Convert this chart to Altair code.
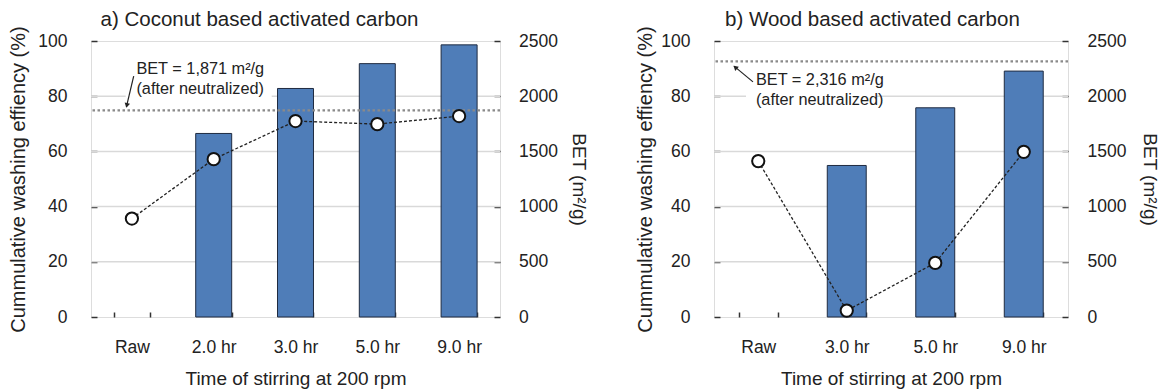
import altair as alt
import pandas as pd

FONT = "Liberation Sans"
INK = "#222222"

# ---------------- data ----------------
cats_a = ["Raw", "2.0 hr", "3.0 hr", "5.0 hr", "9.0 hr"]
eff_a = [None, 66.5, 82.8, 91.8, 98.6]
bet_a = [892, 1430, 1775, 1747, 1820]
bet_neutral_a = 1871

cats_b = ["Raw", "3.0 hr", "5.0 hr", "9.0 hr"]
eff_b = [None, 54.9, 75.8, 89.1]
bet_b = [1412, 58, 490, 1496]
bet_neutral_b = 2316

pct_ticks = [0, 20, 40, 60, 80, 100]
grid_vals = [20, 40, 60, 80]
bet_ticks = [0, 500, 1000, 1500, 2000, 2500]

title_a = "a) Coconut based activated carbon"
title_b = "b) Wood based activated carbon"
x_title = "Time of stirring at 200 rpm"
y_title = "Cummulative washing effiency (%)"
y2_title = "BET (m²/g)"
note_tail = "(after neutralized)"

# ---------------- layout / style (not data) ----------------
LAYOUT_A = dict(width=409, title_dx=9.5, ytp=9, y2lp=18.5, y2tp=11,
                text_y=[89.8, 82.6], text_dx=4.5,
                box_y=86.2, box_x=(-6.2, 139.8),
                arrow_y=(87.3, 76.1), arrow_x=(1.8, -5.5),
                head_y=76.9, head_x=-4.9, head_angle=193)
LAYOUT_B = dict(width=354, title_dx=11, ytp=5, y2lp=19, y2tp=14,
                text_y=[85.9, 78.6], text_dx=-2.3,
                box_y=82.2, box_x=(-12.25, 118.75),
                arrow_y=(85.2, 90.9), arrow_x=(-5.25, -24.25),
                head_y=90.3, head_x=-22.4, head_angle=311)

common_axis = dict(labelFont=FONT, titleFont=FONT, labelColor=INK, titleColor=INK,
                   titleFontWeight="normal", labelFontSize=17.5, tickColor="#333333",
                   tickWidth=1.5, domain=False, grid=False)


def panel(cats, eff, bet, bet_neutral, title, L):
    df = pd.DataFrame({"cat": cats, "eff": eff, "bet": bet})
    raw = cats[0]

    X = alt.X("cat:N", sort=cats,
              scale=alt.Scale(domain=cats, paddingInner=0.56, paddingOuter=0.28),
              axis=alt.Axis(title=x_title, labelAngle=0, tickBand="extent", offset=-5,
                            tickSize=5, labelPadding=30, labelBaseline="middle",
                            titleFontSize=19, titlePadding=14, **common_axis))

    yaxis = alt.Axis(title=y_title, values=pct_ticks, offset=-6, tickSize=6,
                     labelPadding=24, titleFontSize=20, titlePadding=L["ytp"],
                     **common_axis)

    def YP(field):
        return alt.Y(field, type="quantitative", scale=alt.Scale(domain=[0, 100]), axis=yaxis)

    baxis = alt.Axis(title=y2_title, orient="right", values=bet_ticks, format="d", offset=-6,
                     tickSize=6, labelPadding=L["y2lp"], titleFontSize=19,
                     titlePadding=L["y2tp"], **common_axis)

    def YB(field):
        return alt.Y(field, type="quantitative", scale=alt.Scale(domain=[0, 2500]), axis=baxis)

    grid = alt.Chart(pd.DataFrame({"g": grid_vals})).mark_rule(
        color="#d9d9d9", strokeWidth=1.5).encode(y=YP("g"))

    box = alt.Chart(pd.DataFrame({"cat": [raw], "y": [L["box_y"]]})).mark_rule(
        color="white", strokeWidth=38, strokeCap="butt",
        xOffset=L["box_x"][0], x2Offset=L["box_x"][1]
    ).encode(x=X, x2=alt.X2("cat"), y=YP("y"))

    bars = alt.Chart(df).mark_bar(color="#4F7DB8", stroke="#1f2b40", strokeWidth=1).encode(
        x=X, y=YP("eff"))

    lines = [f"BET = {bet_neutral:,} m²/g", note_tail]
    text = alt.Chart(pd.DataFrame({"cat": [raw, raw], "t": lines, "y": L["text_y"]})).mark_text(
        align="left", baseline="middle", dx=L["text_dx"], fontSize=16.3, font=FONT, color=INK
    ).encode(x=X, y=YP("y"), text="t:N")

    arrow = alt.Chart(pd.DataFrame({"cat": [raw], "y1": [L["arrow_y"][0]], "y2": [L["arrow_y"][1]]})).mark_rule(
        color=INK, strokeWidth=1.2, xOffset=L["arrow_x"][0], x2Offset=L["arrow_x"][1]
    ).encode(x=X, x2=alt.X2("cat"), y=YP("y1"), y2=alt.Y2("y2"))

    head = alt.Chart(pd.DataFrame({"cat": [raw], "y": [L["head_y"]]})).mark_point(
        shape="triangle", filled=True, size=30, angle=L["head_angle"], xOffset=L["head_x"],
        color=INK, opacity=1
    ).encode(x=X, y=YP("y"))

    pct_group = alt.layer(grid, box, bars, text, arrow, head)

    ref = alt.Chart(pd.DataFrame({"v": [bet_neutral]})).mark_rule(
        color="#8a8a8a", strokeWidth=2.2, strokeDash=[2.5, 2.5]).encode(y=YB("v"))
    line = alt.Chart(df).mark_line(color=INK, strokeWidth=1.3, strokeDash=[3, 2]).encode(
        x=X, y=YB("bet"))
    pts = alt.Chart(df).mark_point(filled=True, fill="white", stroke="#111111", strokeWidth=2,
                                   size=150, opacity=1).encode(x=X, y=YB("bet"))
    bet_group = alt.layer(ref, line, pts)

    return alt.layer(pct_group, bet_group).resolve_scale(y="independent").properties(
        width=L["width"], height=276,
        title=alt.Title(title, anchor="start", frame="group", dx=L["title_dx"], offset=-21,
                        baseline="alphabetic", fontSize=20.5, font=FONT, fontWeight="normal",
                        color=INK))


left = panel(cats_a, eff_a, bet_a, bet_neutral_a, title_a, LAYOUT_A)
right = panel(cats_b, eff_b, bet_b, bet_neutral_b, title_b, LAYOUT_B)

chart = alt.hconcat(left, right, spacing=47).properties(
    padding={"left": 8, "top": 9, "right": 0, "bottom": 0},
    background="white",
).configure_view(stroke="#333333", strokeWidth=1.5).configure(font=FONT)

chart.save("out.html", embed_options={"renderer": "svg", "actions": False})
